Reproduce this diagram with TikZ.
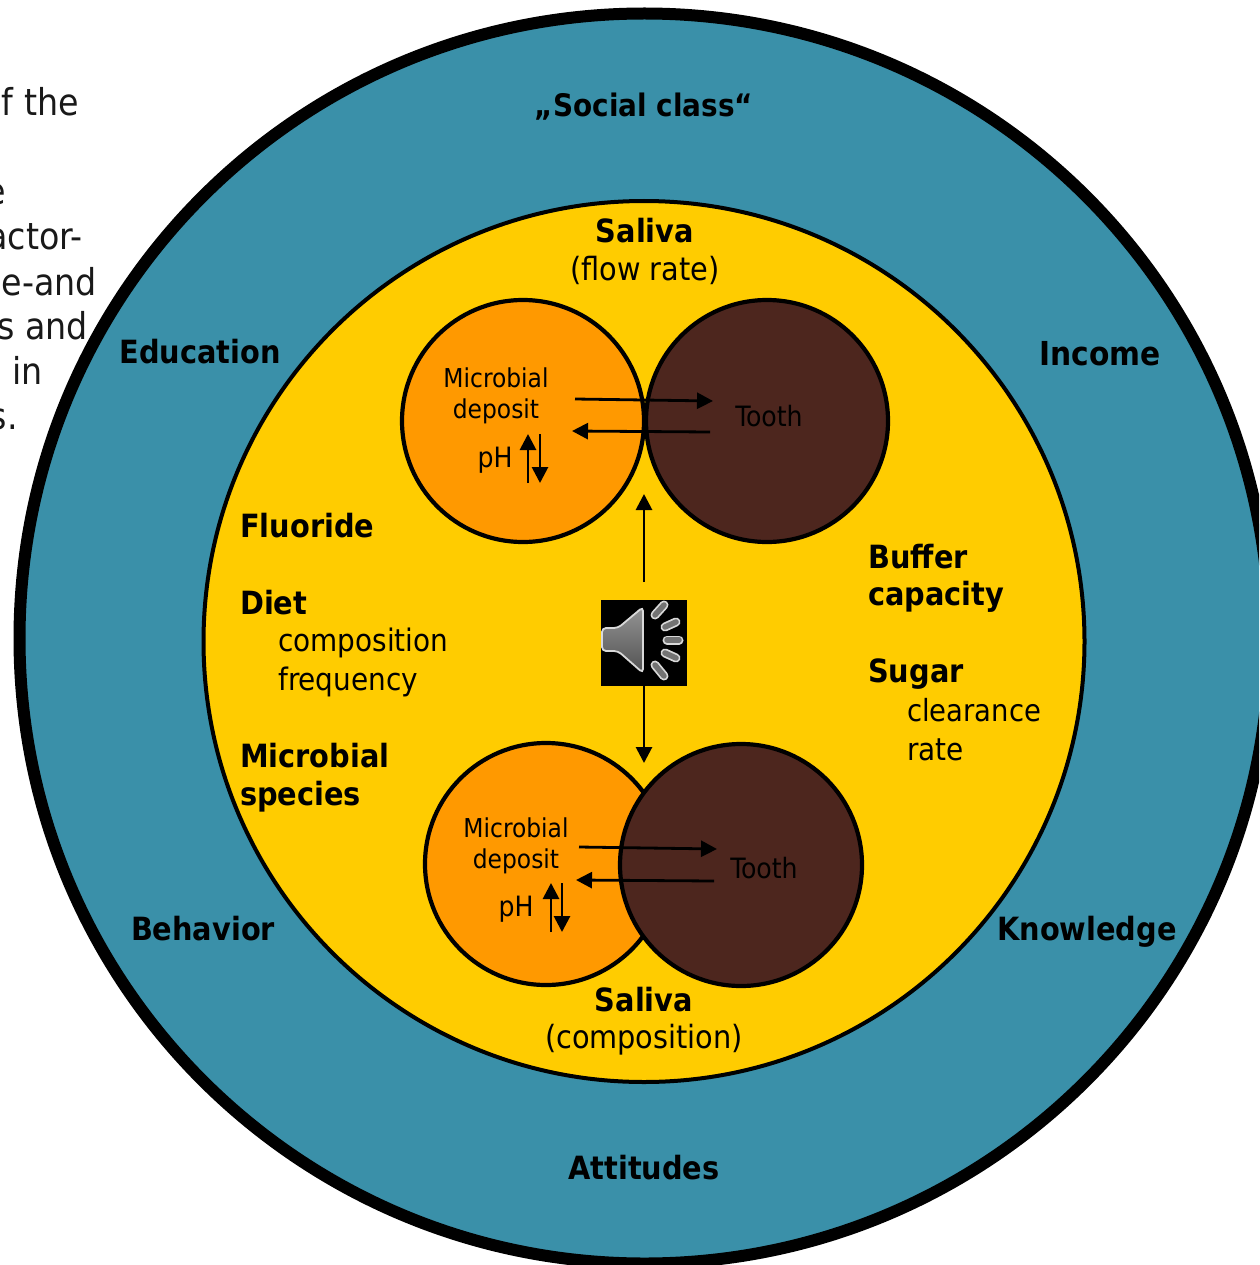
\documentclass[tikz,border=0pt]{standalone}
\usepackage{fontspec}
\setmainfont{DejaVu Sans Condensed}
\usetikzlibrary{arrows.meta}
\definecolor{tealring}{HTML}{3A90A9}
\definecolor{yellowdisc}{HTML}{FFCC00}
\definecolor{orangedisc}{HTML}{FF9900}
\definecolor{browndisc}{HTML}{4D261E}
\tikzset{
  lab/.style={font=\fontsize{32}{38}\selectfont\bfseries, text=black, inner sep=0pt, align=left},
  reg/.style={font=\fontsize{31}{39}\selectfont, text=black, inner sep=0pt, align=left},
  small/.style={font=\fontsize{26}{32}\selectfont, text=black, inner sep=0pt, align=center},
  smallb/.style={font=\fontsize{28}{32}\selectfont, text=black, inner sep=0pt, align=center},
  side/.style={font=\fontsize{37}{45}\selectfont, text=black!90, inner sep=0pt, anchor=base east},
  disc/.style={circle, draw=black, line width=4.2pt, inner sep=0pt, minimum size=242pt},
  arr/.style={draw=black, line width=2.8pt, -{Triangle[length=16pt,width=16pt]}},
  bar/.style={draw=white!85!black, line width=9pt, line cap=round},
  barin/.style={draw=black!55, line width=5.5pt, line cap=round}
}
\begin{document}
\begin{tikzpicture}[x=1pt,y=-1pt]
\useasboundingbox (0,0) rectangle (1259,1265);
\clip (0,0) rectangle (1259,1265);
% cut-off slide text on the left
\node[side] (t1) at (79,116) {f the};
\node[side] (t2) at (6,205) {e};
\node[side] (t3) at (83,250) {actor-};
\node[side] (t4) at (97,295) {e-and};
\node[side] (t5) at (88,339) {s and};
\node[side] (t6) at (43,384) {s in};
\node[side] (t7) at (18,429) {s.};
% rings
\node[circle, draw=black, fill=tealring, line width=12pt, inner sep=0pt, minimum size=1250pt] (outer) at (644.5,638.5) {};
\node[circle, draw=black, fill=yellowdisc, line width=4pt, inner sep=0pt, minimum size=881pt] (inner) at (644,641.5) {};
% discs
\node[disc, fill=orangedisc] (dep1) at (523,421) {};
\node[disc, fill=browndisc] (tooth1) at (767,421) {};
\node[disc, fill=orangedisc] (dep2) at (546,864) {};
\node[disc, fill=browndisc] (tooth2) at (741,865) {};
% outer labels
\node[lab, font=\fontsize{31}{38}\selectfont\bfseries] (social) at (644,107) {„Social class“};
\node[lab] (education) at (200,352) {Education};
\node[lab, font=\fontsize{33}{38}\selectfont\bfseries] (income) at (1100,354) {Income};
\node[lab] (behavior) at (203,929) {Behavior};
\node[lab] (knowledge) at (1087,932) {Knowledge};
\node[lab] (attitudes) at (644,1168) {Attitudes};
% inner labels
\node[lab] (saliva1) at (645,231) {Saliva};
\node[reg, font=\fontsize{32}{39}\selectfont] (flow) at (645,270) {(flow rate)};
\node[lab] (saliva2) at (644,1000) {Saliva};
\node[reg, font=\fontsize{32}{39}\selectfont] (compo) at (644,1040) {(composition)};
\node[lab, anchor=west] (fluoride) at (240,526) {Fluoride};
\node[lab, anchor=west] (diet) at (240,603) {Diet};
\node[reg, anchor=west] (dietc) at (278,643) {composition};
\node[reg, anchor=west] (dietf) at (278,682) {frequency};
\node[lab, anchor=west] (micro) at (240,756) {Microbial};
\node[lab, anchor=west] (species) at (240,797) {species};
\node[lab, anchor=west] (buffer) at (868,557) {Buffer};
\node[lab, anchor=west] (capacity) at (868,597) {capacity};
\node[lab, anchor=west] (sugar) at (868,674) {Sugar};
\node[reg, font=\fontsize{30.5}{39}\selectfont, anchor=west] (clear) at (907,710) {clearance};
\node[reg, anchor=west] (rate) at (907,750) {rate};
% disc texts
\node[small] (md1a) at (496,378) {Microbial};
\node[small] (md1b) at (496,411) {deposit};
\node[smallb] (ph1) at (495,460) {pH};
\node[smallb] (tt1) at (769,416) {Tooth};
\node[small] (md2a) at (516,828) {Microbial};
\node[small] (md2b) at (516,861) {deposit};
\node[smallb] (ph2) at (516,909) {pH};
\node[smallb] (tt2) at (764,868) {Tooth};
% speaker icon
\node[fill=black, minimum size=86pt, inner sep=0pt] (speaker) at (644,643) {};
\draw[draw=white!85!black, top color=black!42, bottom color=black!68, line width=1.8pt, rounded corners=4pt]
  (602,628) -- (618,628) -- (643,607) -- (643,673) -- (618,651) -- (602,651) -- cycle;
\foreach \a/\b/\c/\d in {655/615/664/605, 665/627/676/622, 667/640/679/640, 665/653/676/658, 655/665/664/676}{
  \draw[bar] (\a,\b) -- (\c,\d);
  \draw[barin] (\a,\b) -- (\c,\d);
}
% connectors
\coordinate (a1s) at (575,399); \coordinate (a1e) at (713,401);
\coordinate (a2s) at (710,432); \coordinate (a2e) at (572,431);
\coordinate (p1s) at (528,483); \coordinate (p1e) at (528,434);
\coordinate (p2s) at (540,434); \coordinate (p2e) at (540,483);
\coordinate (a3s) at (579,847); \coordinate (a3e) at (717,849);
\coordinate (a4s) at (714,881); \coordinate (a4e) at (576,880);
\coordinate (p3s) at (551,932); \coordinate (p3e) at (551,883);
\coordinate (p4s) at (562,883); \coordinate (p4e) at (562,932);
\coordinate (up) at (644,494); \coordinate (down) at (644,763); \coordinate (upstart) at (644,582);
\draw[arr] (a1s) -- (a1e);
\draw[arr] (a2s) -- (a2e);
\draw[arr] (p1s) -- (p1e);
\draw[arr] (p2s) -- (p2e);
\draw[arr] (a3s) -- (a3e);
\draw[arr] (a4s) -- (a4e);
\draw[arr] (p3s) -- (p3e);
\draw[arr] (p4s) -- (p4e);
\draw[arr] (upstart) -- (up);
\draw[arr] (speaker.south) -- (down);
\end{tikzpicture}
\end{document}
